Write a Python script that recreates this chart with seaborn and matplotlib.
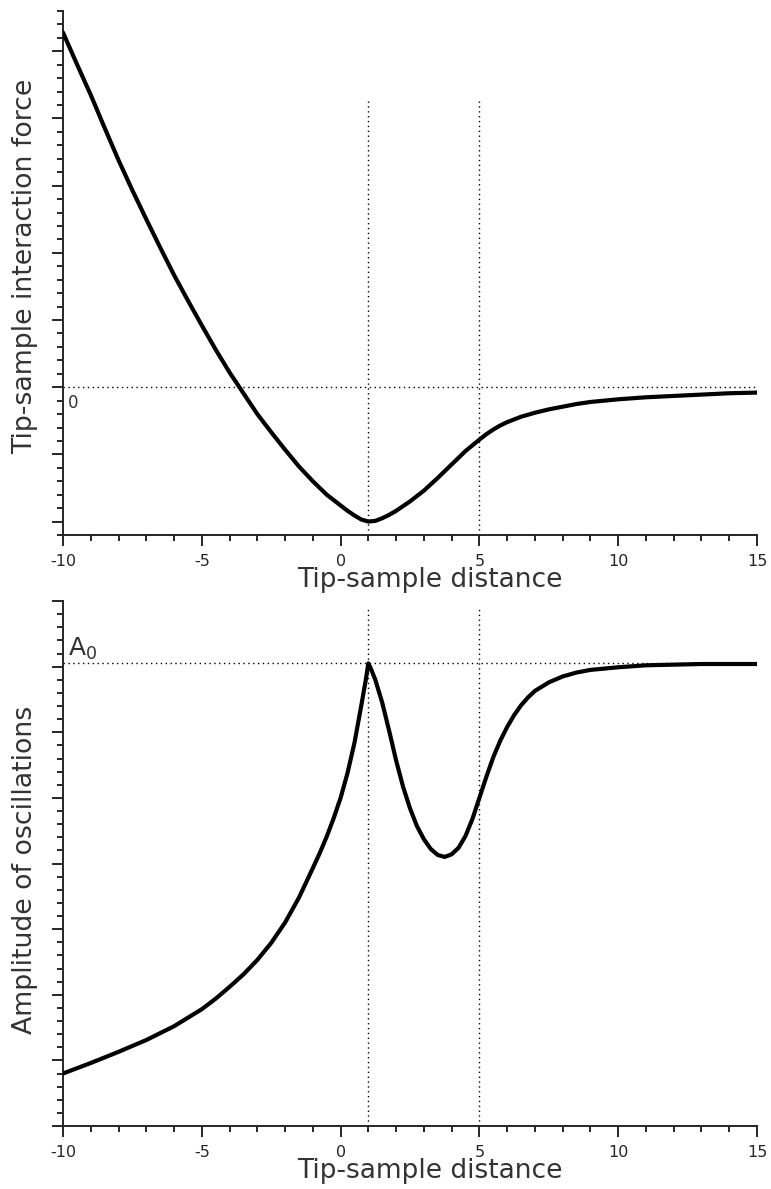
import numpy as np
import pandas as pd
import matplotlib
matplotlib.use("Agg")
import matplotlib.pyplot as plt
import matplotlib.ticker as mticker
import seaborn as sns

# ── Dados ────────────────────────────────────────────────────────────────────
dist_forca = [-10, -9.5, -9, -8.5, -8, -7.5, -7, -6.5, -6, -5.5, -5, -4.5, -4,
              -3.5, -3, -2.5, -2, -1.5, -1, -0.5, 0, 0.25, 0.5, 0.75, 1, 1.25,
              1.5, 1.75, 2, 2.5, 3, 3.5, 4, 4.5, 5, 5.25, 5.5, 5.75, 6, 6.5,
              7, 7.5, 8, 8.5, 9, 10, 11, 12, 13, 14, 15]
forca = [5.28, 4.81, 4.35, 3.86, 3.38, 2.93, 2.50, 2.08, 1.67, 1.29, 0.92,
         0.56, 0.22, -0.09, -0.40, -0.67, -0.93, -1.18, -1.40, -1.60, -1.76,
         -1.84, -1.91, -1.97, -2.0, -1.99, -1.95, -1.90, -1.84, -1.70, -1.54,
         -1.35, -1.15, -0.95, -0.78, -0.70, -0.63, -0.57, -0.52, -0.44, -0.38,
         -0.33, -0.29, -0.25, -0.22, -0.18, -0.15, -0.13, -0.11, -0.09, -0.08]

dist_amp = [-10, -9, -8, -7, -6, -5, -4.5, -4, -3.5, -3, -2.5, -2, -1.5, -1,
            -0.75, -0.5, -0.25, 0, 0.25, 0.5, 0.75, 0.9, 1.0, 1.1, 1.25, 1.5,
            1.75, 2.0, 2.25, 2.5, 2.75, 3.0, 3.25, 3.5, 3.75, 4.0, 4.25, 4.5,
            4.75, 5.0, 5.25, 5.5, 5.75, 6.0, 6.25, 6.5, 6.75, 7.0, 7.5, 8.0,
            8.5, 9.0, 10, 11, 12, 13, 15]
amplitude = [0.80, 0.96, 1.13, 1.31, 1.52, 1.78, 1.94, 2.12, 2.31, 2.53, 2.79,
             3.10, 3.48, 3.93, 4.16, 4.41, 4.69, 5.0, 5.38, 5.84, 6.42, 6.78,
             7.05, 6.96, 6.80, 6.45, 6.02, 5.57, 5.17, 4.84, 4.57, 4.37, 4.22,
             4.13, 4.10, 4.14, 4.24, 4.42, 4.68, 5.0, 5.32, 5.62, 5.87, 6.08,
             6.26, 6.41, 6.53, 6.63, 6.76, 6.85, 6.91, 6.95, 6.99, 7.02, 7.03,
             7.04, 7.04]

A0 = 7.05
linhas_verticais = [1, 5]
xticks_major = [-10, -5, 0, 5, 10, 15]

# ── Configuração visual ──────────────────────────────────────────────────────
sns.set_style("ticks")
plt.rcParams.update({
    "font.family": "DejaVu Sans",
    "mathtext.default": "regular",
    "axes.linewidth": 1.4,
    "xtick.major.width": 1.4, "ytick.major.width": 1.4,
    "xtick.minor.width": 1.4, "ytick.minor.width": 1.4,
    "xtick.major.size": 8, "ytick.major.size": 8,
    "xtick.minor.size": 4.5, "ytick.minor.size": 4,
    "xtick.direction": "out", "ytick.direction": "out",
})
PONTILHADO = (0, (1, 2.5))
COR_TEXTO = "#333333"

W, H = 771, 1189
fig = plt.figure(figsize=(W / 100, H / 100), dpi=100)
ax1 = fig.add_axes([63 / W, 1 - 535 / H, 694 / W, 524 / H])
ax2 = fig.add_axes([63 / W, 1 - 1126 / H, 694 / W, 525 / H])

df_f = pd.DataFrame({"x": dist_forca, "y": forca})
df_a = pd.DataFrame({"x": dist_amp, "y": amplitude})

# ── Painel superior: força ───────────────────────────────────────────────────
ax1.axhline(0, color="black", lw=1, ls=PONTILHADO, zorder=1)
ax1.vlines(linhas_verticais, -2.2, 4.27, color="black", lw=1, linestyles=[PONTILHADO], zorder=1)
sns.lineplot(data=df_f, x="x", y="y", ax=ax1, color="black", lw=3, estimator=None, sort=False, zorder=3)
ax1.text(-9.82, -0.1, "0", fontsize=12, color=COR_TEXTO, va="top", ha="left")
ax1.set_xlim(-10, 15)
ax1.set_ylim(-2.2, 5.6)
ax1.yaxis.set_major_locator(mticker.MultipleLocator(1))
ax1.yaxis.set_minor_locator(mticker.MultipleLocator(0.2))
ax1.set_yticklabels([])
ax1.set_ylabel("Tip-sample interaction force", fontsize=19.3, color=COR_TEXTO)
ax1.yaxis.set_label_coords(-0.036, 0.513)

# ── Painel inferior: amplitude ───────────────────────────────────────────────
ax2.axhline(A0, color="black", lw=1, ls=PONTILHADO, zorder=1)
ax2.vlines(linhas_verticais, 0, 7.9, color="black", lw=1, linestyles=[PONTILHADO], zorder=1)
sns.lineplot(data=df_a, x="x", y="y", ax=ax2, color="black", lw=3, estimator=None, sort=False, zorder=3)
ax2.text(-9.82, A0 + 0.12, "A$_0$", fontsize=18, color=COR_TEXTO, va="baseline", ha="left")
ax2.set_xlim(-10, 15)
ax2.set_ylim(0, 8)
ax2.yaxis.set_major_locator(mticker.MultipleLocator(1))
ax2.yaxis.set_minor_locator(mticker.MultipleLocator(0.2))
ax2.set_yticklabels([])
ax2.set_ylabel("Amplitude of oscillations", fontsize=19.3, color=COR_TEXTO)
ax2.yaxis.set_label_coords(-0.036, 0.488)

for ax in (ax1, ax2):
    sns.despine(ax=ax)
    ax.set_xticks(xticks_major)
    ax.set_xticklabels([str(v) for v in xticks_major])
    ax.xaxis.set_minor_locator(mticker.MultipleLocator(1))
    ax.tick_params(axis="x", labelsize=11.5, pad=5.5)
    ax.set_xlabel("Tip-sample distance", fontsize=19, color=COR_TEXTO)
    ax.xaxis.set_label_coords(0.529, -0.061)
    ax.grid(False)

fig.savefig("out.png", dpi=100)
